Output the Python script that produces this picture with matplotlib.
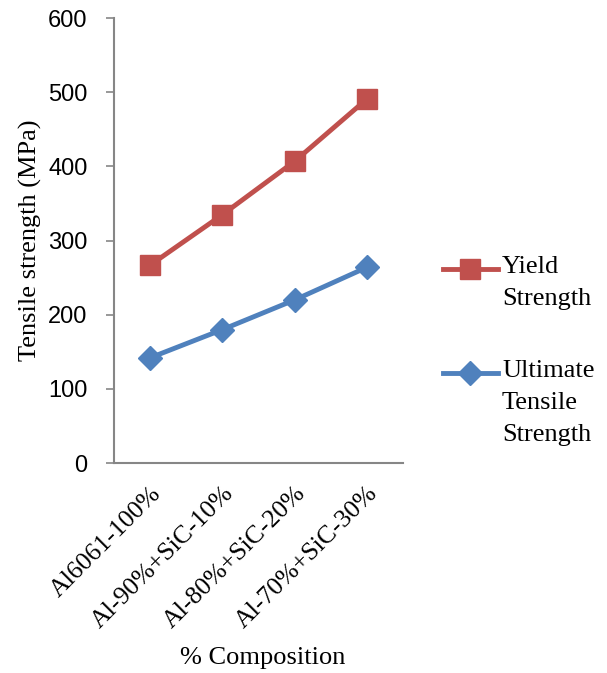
import matplotlib.pyplot as plt
from matplotlib.lines import Line2D

categories = ['Al6061-100%', 'Al-90%+SiC-10%', 'Al-80%+SiC-20%', 'Al-70%+SiC-30%']
yield_strength = [267, 335, 407, 491]
ultimate_strength = [142, 180, 220, 264]
yticks = [0, 100, 200, 300, 400, 500, 600]
legend_labels = ['Yield\nStrength', 'Ultimate\nTensile\nStrength']

red = '#C0504D'
blue = '#4F81BD'
grey = '#868686'
serif = 'Liberation Serif'

fig = plt.figure(figsize=(6.07, 6.73), dpi=100)
ax = fig.add_axes([0.188, 0.312, 0.476, 0.661])

x = range(len(categories))
ax.plot(x, yield_strength, color=red, lw=3.5, marker='s', ms=14, zorder=3)
ax.plot(x, ultimate_strength, color=blue, lw=3.5, marker='D', ms=12, zorder=3)

ax.set_xlim(-0.5, len(categories) - 0.5)
ax.set_ylim(0, 600)
ax.set_yticks(yticks)
ax.set_yticklabels([str(v) for v in yticks], fontsize=17, family='Liberation Sans')
ax.set_xticks(list(x))
ax.set_xticklabels(categories, rotation=45, ha='right', va='top',
                   rotation_mode='anchor', fontsize=18.5, family=serif)
ax.tick_params(axis='x', length=0, pad=14)
ax.tick_params(axis='y', length=6, width=1.2, color=grey, pad=13)

for side in ['top', 'right']:
    ax.spines[side].set_visible(False)
for side in ['left', 'bottom']:
    ax.spines[side].set_color(grey)
    ax.spines[side].set_linewidth(1.5)

ax.set_ylabel('Tensile strength (MPa)', fontsize=19, family=serif)
ax.yaxis.set_label_coords(-0.248, 0.5)
fig.text(0.433, 0.022, '% Composition', ha='center', va='center',
         fontsize=19, family=serif)

# legend drawn by hand so the key sits on the first text line
for color, marker, ms, ypix, label in [
        (red, 's', 14, 269, legend_labels[0]),
        (blue, 'D', 12, 373, legend_labels[1])]:
    yf = 1 - ypix / 673
    fig.add_artist(Line2D([443 / 607, 498 / 607], [yf, yf], color=color, lw=3.5,
                          transform=fig.transFigure))
    fig.add_artist(Line2D([470 / 607], [yf], color=color, marker=marker, ms=ms,
                          transform=fig.transFigure))
    fig.text(502 / 607, yf + 13 / 673, label, ha='left', va='top',
             fontsize=19, family=serif, linespacing=1.6)

fig.savefig('out.png', dpi=100)
